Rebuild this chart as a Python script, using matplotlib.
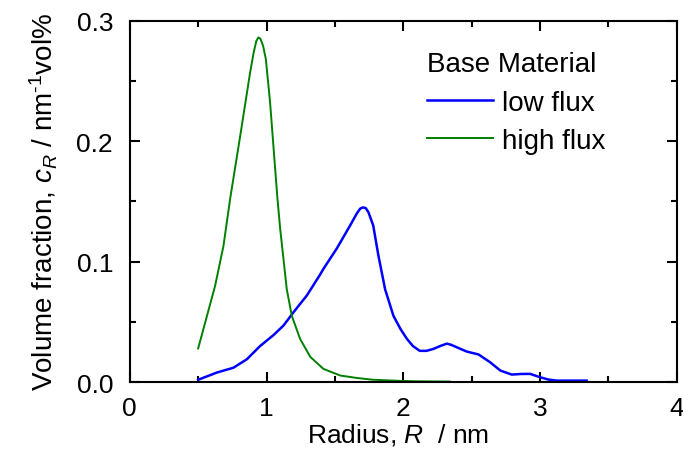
import matplotlib.pyplot as plt
from matplotlib.ticker import MultipleLocator

plt.rcParams['font.family'] = ['Liberation Sans', 'DejaVu Sans']
plt.rcParams['mathtext.fontset'] = 'custom'
plt.rcParams['mathtext.rm'] = 'Liberation Sans'
plt.rcParams['mathtext.it'] = 'Liberation Sans:italic'

# low flux (blue)
r_low = [0.50, 0.637, 0.758, 0.856, 0.953, 1.05, 1.124, 1.197, 1.295, 1.39,
         1.416, 1.514, 1.611, 1.66, 1.685, 1.704, 1.725, 1.745, 1.78, 1.818,
         1.867, 1.928, 1.98, 2.026, 2.07, 2.12, 2.17, 2.22, 2.27, 2.318,
         2.35, 2.39, 2.464, 2.55, 2.634, 2.71, 2.793, 2.86, 2.927, 3.0,
         3.06, 3.12, 3.34]
c_low = [0.002, 0.008, 0.012, 0.019, 0.030, 0.039, 0.047, 0.058, 0.072, 0.089,
         0.094, 0.111, 0.130, 0.140, 0.144, 0.145, 0.1445, 0.141, 0.130, 0.105,
         0.077, 0.055, 0.044, 0.036, 0.030, 0.026, 0.026, 0.0276, 0.030, 0.032,
         0.031, 0.029, 0.0254, 0.023, 0.0166, 0.0096, 0.0063, 0.0068, 0.0069, 0.0041,
         0.0022, 0.0013, 0.0013]

# high flux (green)
r_high = [0.50, 0.624, 0.685, 0.735, 0.807, 0.88, 0.905, 0.925, 0.94, 0.955,
          0.975, 0.995, 1.026, 1.063, 1.08, 1.10, 1.148, 1.185, 1.245, 1.32,
          1.416, 1.54, 1.66, 1.78, 2.0, 2.12, 2.34]
c_high = [0.028, 0.080, 0.113, 0.153, 0.204, 0.257, 0.273, 0.283, 0.286, 0.285,
          0.279, 0.268, 0.232, 0.177, 0.152, 0.127, 0.077, 0.055, 0.036, 0.021,
          0.011, 0.0055, 0.0035, 0.002, 0.001, 0.0007, 0.0005]

fig = plt.figure(figsize=(6.83, 4.6), dpi=100)
ax = fig.add_axes([0.19, 0.167, 0.801, 0.786])

ax.plot(r_low, c_low, color='#0000ff', lw=1.8, label='low flux')
ax.plot(r_high, c_high, color='#008000', lw=1.4, label='high flux')

ax.set_xlim(0, 4)
ax.set_ylim(0, 0.3)
ax.xaxis.set_major_locator(MultipleLocator(1))
ax.xaxis.set_minor_locator(MultipleLocator(0.5))
ax.yaxis.set_major_locator(MultipleLocator(0.1))
ax.yaxis.set_minor_locator(MultipleLocator(0.05))
ax.xaxis.set_major_formatter(plt.FuncFormatter(lambda v, p: f"{v:.0f}"))
ax.yaxis.set_major_formatter(plt.FuncFormatter(lambda v, p: f"{v:.1f}"))

ax.tick_params(which='both', direction='in', top=True, right=True,
               labelsize=19, width=1.5)
ax.tick_params(which='major', length=7)
ax.tick_params(axis='x', which='major', pad=10)
ax.tick_params(axis='y', which='major', pad=12)
ax.tick_params(which='minor', length=4)
for s in ax.spines.values():
    s.set_linewidth(1.5)

ax.set_xlabel('Radius, $R$  / nm', fontsize=19)
ax.set_ylabel('Volume fraction, $c_R$ / nm$^{\u2010 1}$vol%', fontsize=20)
ax.xaxis.set_label_coords(0.49, -0.107)
ax.yaxis.set_label_coords(-0.127, 0.5)

leg = ax.legend(title='Base Material', loc='upper left', frameon=False,
                fontsize=20, title_fontsize=20, handlelength=2.4,
                handletextpad=0.3, labelspacing=0.45, borderpad=0.3,
                bbox_to_anchor=(0.502, 0.977))
leg._legend_box.align = 'left'

fig.savefig('out.png', dpi=100)
